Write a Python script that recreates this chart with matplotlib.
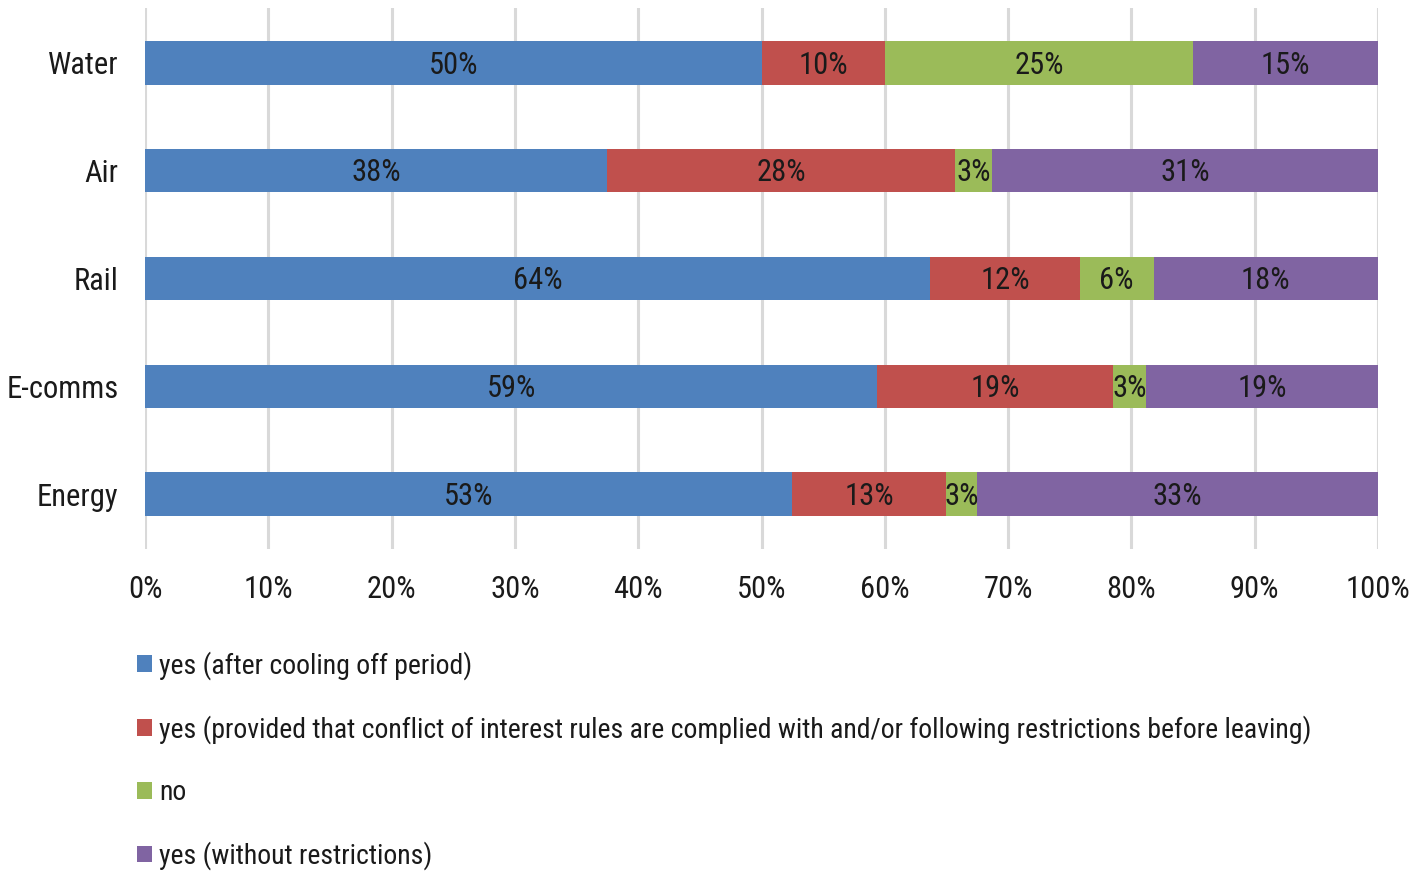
import matplotlib.pyplot as plt
from matplotlib.patches import Patch
from matplotlib.ticker import PercentFormatter

# Sectors, top to bottom
sectors = ['Water', 'Air', 'Rail', 'E-comms', 'Energy']

# Share of answers per sector (%)
after_cooling = [50.0, 37.5, 63.7, 59.4, 52.5]
conflict_rules = [10.0, 28.2, 12.1, 19.1, 12.5]
no_answer = [25.0, 3.0, 6.0, 2.7, 2.5]
no_restrictions = [15.0, 31.3, 18.2, 18.8, 32.5]

series_names = [
    'yes (after cooling off period)',
    'yes (provided that conflict of interest rules are complied with and/or following restrictions before leaving)',
    'no',
    'yes (without restrictions)',
]
series = [after_cooling, conflict_rules, no_answer, no_restrictions]
colors = ['#4f81bd', '#c0504d', '#9bbb59', '#8064a2']

plt.rcParams['font.family'] = ['Roboto Condensed', 'Liberation Sans', 'DejaVu Sans']
text_color = '#1a1a1a'
fs = 22

fig = plt.figure(figsize=(14.2, 8.71), dpi=100)
ax = fig.add_axes([145 / 1420, 1 - 549 / 871, (1378 - 145) / 1420, (549 - 8) / 871])

ypos = list(range(len(sectors)))
left = [0.0] * len(sectors)
for vals, col in zip(series, colors):
    bars = ax.barh(ypos, vals, left=left, height=0.4, color=col, edgecolor='none', zorder=3)
    for b, v in zip(bars, vals):
        x = b.get_x() + b.get_width() / 2
        ax.text(x, b.get_y() + b.get_height() / 2 + 0.02, f'{int(v + 0.5)}%', ha='center', va='center',
                fontsize=fs, color=text_color, zorder=4)
    left = [l + v for l, v in zip(left, vals)]

ax.set_xlim(0, 100)
ax.set_ylim(len(sectors) - 0.49, -0.51)
ax.set_xticks(range(0, 101, 10))
ax.xaxis.set_major_formatter(PercentFormatter(decimals=0))
ax.set_yticks(ypos)
ax.set_yticklabels(sectors)
ax.tick_params(axis='both', length=0, labelsize=fs, colors=text_color)
ax.tick_params(axis='y', pad=19)
ax.tick_params(axis='x', pad=19)
ax.grid(axis='x', color='#d9d9d9', linewidth=2.2, zorder=0)
for s in ax.spines.values():
    s.set_visible(False)

handles = [Patch(facecolor=c, edgecolor='none') for c in colors]
fig.legend(handles, series_names, loc='upper left', bbox_to_anchor=(137 / 1420, 1 - 651 / 871),
           frameon=False, fontsize=20, handlelength=0.55, handleheight=0.55, handletextpad=0.25,
           labelspacing=1.27, borderpad=0, borderaxespad=0, labelcolor=text_color)

fig.savefig('out.png', dpi=100)
